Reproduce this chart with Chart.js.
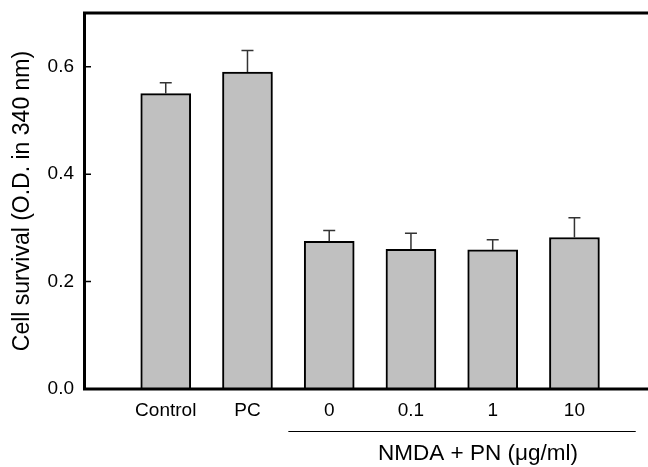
<!DOCTYPE html>
<html lang="en">
<head>
    <meta charset="UTF-8">
    <title>Cell survival</title>
    <script src="https://cdn.jsdelivr.net/npm/chart.js"></script>
    <style>
        body { margin: 0; background: #fff; }
        #wrap { width: 648px; height: 467px; }
    </style>
</head>
<body>
<div id="wrap">
    <canvas id="survival-chart" width="648" height="467"></canvas>
</div>

<script>
    // groups along the x axis and their mean O.D. with upper error
    const categories = ['Control', 'PC', '0', '0.1', '1', '10'];
    const survival = [0.55, 0.59, 0.275, 0.26, 0.259, 0.282];
    const errors = [0.02, 0.04, 0.02, 0.03, 0.019, 0.037];
    const yTicks = [0, 0.2, 0.4, 0.6];

    const FONT = 'Liberation Sans, Arial, sans-serif';

    // error bars (upper half only)
    const errorBars = {
        id: 'errorBars',
        afterDatasetsDraw(chart) {
            const ctx = chart.ctx;
            const y = chart.scales.y;
            const meta = chart.getDatasetMeta(0);
            ctx.save();
            ctx.strokeStyle = '#333';
            ctx.lineWidth = 1.5;
            meta.data.forEach((bar, i) => {
                const top = y.getPixelForValue(survival[i] + errors[i]);
                const base = y.getPixelForValue(survival[i]);
                ctx.beginPath();
                ctx.moveTo(bar.x, base);
                ctx.lineTo(bar.x, top);
                ctx.moveTo(bar.x - 6, top);
                ctx.lineTo(bar.x + 6, top);
                ctx.stroke();
            });
            ctx.restore();
        }
    };

    // heavy frame lines, inward y ticks and the NMDA group label
    const frame = {
        id: 'frame',
        afterDraw(chart) {
            const ctx = chart.ctx;
            const {left, right, top, bottom} = chart.chartArea;
            const x = chart.scales.x;
            const y = chart.scales.y;
            ctx.save();
            ctx.strokeStyle = '#000';
            ctx.lineWidth = 3;
            ctx.beginPath();
            ctx.moveTo(left + 0.5, top);
            ctx.lineTo(right, top);
            ctx.moveTo(left + 0.5, top - 1.5);
            ctx.lineTo(left + 0.5, bottom + 1.5);
            ctx.moveTo(left, bottom);
            ctx.lineTo(right, bottom);
            ctx.stroke();

            ctx.lineWidth = 1.5;
            ctx.beginPath();
            yTicks.forEach(v => {
                const py = y.getPixelForValue(v);
                ctx.moveTo(left, py);
                ctx.lineTo(left + 7, py);
            });
            ctx.stroke();

            ctx.lineWidth = 1;
            ctx.beginPath();
            ctx.moveTo(x.getPixelForValue(2.5), 431.5);
            ctx.lineTo(x.getPixelForValue(6.75), 431.5);
            ctx.stroke();

            ctx.fillStyle = '#000';
            ctx.font = '22.5px ' + FONT;
            ctx.textAlign = 'center';
            ctx.textBaseline = 'alphabetic';
            ctx.fillText('NMDA + PN (\u03bcg/ml)', x.getPixelForValue(4.82), 460);
            ctx.restore();
        }
    };

    // fixed axis sizes, no extra label padding pushed into the layout
    function fixX(scale) {
        scale.height = 78;
        scale.paddingLeft = 0;
        scale.paddingRight = 0;
    }
    function fixY(scale) {
        scale.width = 84;
        scale.paddingTop = 0;
        scale.paddingBottom = 0;
    }

    const ctx = document.getElementById('survival-chart').getContext('2d');
    new Chart(ctx, {
        type: 'bar',
        data: {
            datasets: [{
                data: survival.map((v, i) => ({x: i + 1, y: v})),
                backgroundColor: '#c0c0c0',
                borderColor: '#000',
                borderWidth: 2,
                barThickness: 50
            }]
        },
        options: {
            responsive: false,
            animation: false,
            devicePixelRatio: 1,
            layout: { padding: { top: 13, right: 0, left: 0, bottom: 0 } },
            plugins: {
                legend: { display: false },
                tooltip: { enabled: false }
            },
            scales: {
                x: {
                    type: 'linear',
                    min: 0,
                    max: 6.9,
                    offset: false,
                    grid: { display: false, drawTicks: false, offset: false },
                    border: { display: false },
                    afterBuildTicks(scale) {
                        scale.ticks = categories.map((_, i) => ({ value: i + 1 }));
                    },
                    afterFit: fixX,
                    ticks: {
                        autoSkip: false,
                        maxRotation: 0,
                        padding: 10,
                        color: '#000',
                        font: { family: FONT, size: 19 },
                        callback: v => categories[v - 1]
                    }
                },
                y: {
                    min: 0,
                    max: 0.7,
                    grid: { display: false, drawTicks: false },
                    border: { display: false },
                    afterBuildTicks(scale) {
                        scale.ticks = yTicks.map(v => ({ value: v }));
                    },
                    afterFit: fixY,
                    ticks: {
                        padding: 10,
                        color: '#000',
                        font: { family: FONT, size: 19 },
                        callback: v => v.toFixed(1)
                    },
                    title: {
                        display: true,
                        text: 'Cell survival (O.D. in 340 nm)',
                        color: '#000',
                        font: { family: FONT, size: 23 },
                        padding: { top: 9, bottom: 0 }
                    }
                }
            }
        },
        plugins: [errorBars, frame]
    });
</script>
</body>
</html>
